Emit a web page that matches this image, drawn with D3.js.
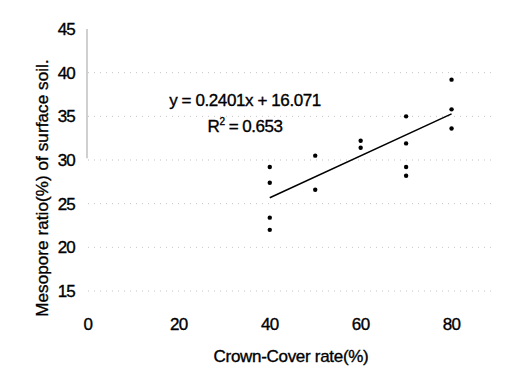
<!DOCTYPE html>
<html>
<head>
<meta charset="utf-8">
<script src="https://cdn.jsdelivr.net/npm/d3@7"></script>
<style>
  body { margin: 0; background: #fff; }
  text { font-family: "Liberation Sans", Arial, sans-serif; fill: #000; stroke: #000; stroke-width: 0.35; }
</style>
</head>
<body>
<svg id="chart" width="511" height="367"></svg>
<script>
// 資料
const coverRate = [40, 40, 40, 40, 50, 50, 60, 60, 70, 70, 70, 70, 80, 80, 80];
const mesopore = [29.2, 27.4, 23.4, 22.0, 30.5, 26.6, 32.2, 31.4, 35.0, 31.9, 29.2, 28.2, 39.2, 35.8, 33.6];
const xTicks = [0, 20, 40, 60, 80];
const yTicks = [15, 20, 25, 30, 35, 40, 45];
const slope = 0.2401, intercept = 16.071;
const fitRange = [40, 80];

const svg = d3.select("#chart");
const x = d3.scaleLinear().domain([0, 90]).range([88, 497]);
const y = d3.scaleLinear().domain([15, 45]).range([291, 29]);

// 格線 (淡淡的點線)
svg.append("g").selectAll("line").data(yTicks.filter(d => d < 45)).join("line")
  .attr("x1", x(0)).attr("x2", x(89)).attr("y1", d => y(d)).attr("y2", d => y(d))
  .attr("stroke", "#c4c4c4").attr("stroke-width", 1).attr("stroke-dasharray", "1 5");

// 左邊灰色軸線 (只有上半部看得到)
svg.append("line").attr("x1", x(0) - 1).attr("x2", x(0) - 1).attr("y1", y(45)).attr("y2", y(30.2))
  .attr("stroke", "#b0b0b0").attr("stroke-width", 1.2);

// y 軸標籤
svg.append("g").selectAll("text").data(yTicks).join("text")
  .attr("x", 75).attr("y", d => y(d)).attr("dy", "0.36em")
  .attr("text-anchor", "end").attr("font-size", 17).attr("letter-spacing", -0.8)
  .text(d => d);

// x 軸標籤
svg.append("g").selectAll("text").data(xTicks).join("text")
  .attr("x", d => x(d)).attr("y", 330)
  .attr("text-anchor", "middle").attr("font-size", 17).attr("letter-spacing", -0.6)
  .text(d => d);

// 趨勢線
svg.append("line")
  .attr("x1", x(fitRange[0])).attr("y1", y(slope * fitRange[0] + intercept))
  .attr("x2", x(fitRange[1])).attr("y2", y(slope * fitRange[1] + intercept))
  .attr("stroke", "#000").attr("stroke-width", 1.5);

// 資料點
svg.append("g").selectAll("circle").data(coverRate.map((c, i) => [c, mesopore[i]])).join("circle")
  .attr("cx", d => x(d[0])).attr("cy", d => y(d[1])).attr("r", 2.2).attr("fill", "#000");

// 方程式
svg.append("text").attr("x", 245).attr("y", 106).attr("text-anchor", "middle")
  .attr("font-size", 17).attr("letter-spacing", -0.4)
  .text("y = 0.2401x + 16.071");
const r2 = svg.append("text").attr("x", 245).attr("y", 132).attr("text-anchor", "middle")
  .attr("font-size", 17).attr("letter-spacing", -0.5);
r2.append("tspan").text("R");
r2.append("tspan").attr("dy", -7).attr("font-size", 10).text("2");
r2.append("tspan").attr("dy", 7).text(" = 0.653");

// 軸標題
svg.append("text").attr("x", 291).attr("y", 362).attr("text-anchor", "middle")
  .attr("font-size", 17).attr("letter-spacing", -0.3)
  .text("Crown-Cover rate(%)");
svg.append("text").attr("transform", "translate(48,188) rotate(-90)").attr("text-anchor", "middle")
  .attr("font-size", 17).attr("letter-spacing", 0.1)
  .text("Mesopore ratio(%) of surface soil.");
</script>
</body>
</html>
